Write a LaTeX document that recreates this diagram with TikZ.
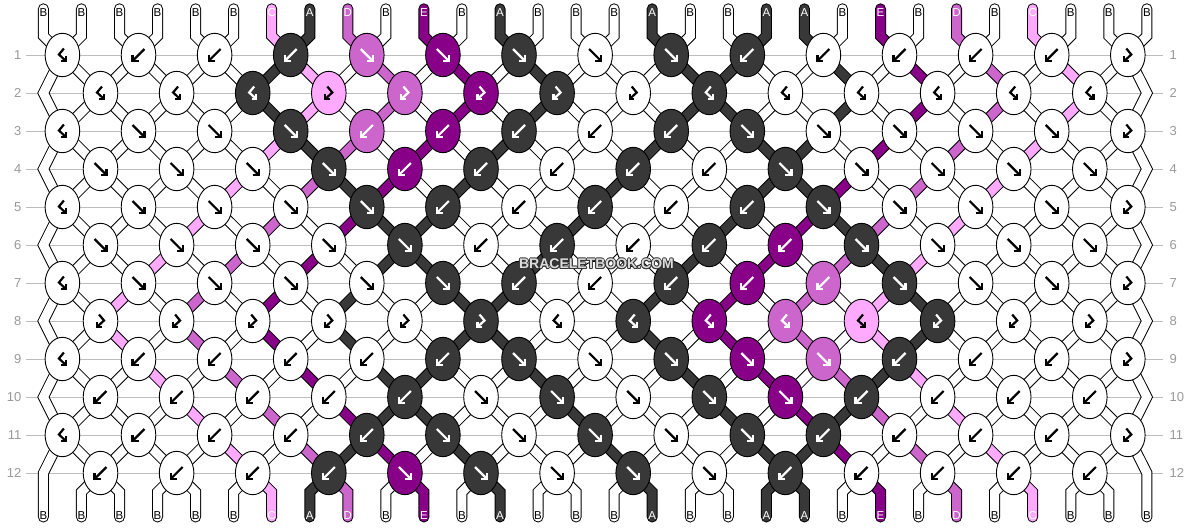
\documentclass[tikz,border=0pt]{standalone}
\usepackage{fontspec}
\setmainfont{Liberation Sans}
\usetikzlibrary{shapes.geometric}
\definecolor{cA}{HTML}{383838}
\definecolor{cB}{HTML}{FFFFFF}
\definecolor{cC}{HTML}{FFAAFF}
\definecolor{cD}{HTML}{CC66CC}
\definecolor{cE}{HTML}{880088}
\definecolor{rowgray}{HTML}{BDBDBD}
\definecolor{numgray}{HTML}{999999}
\definecolor{wmdark}{HTML}{333333}
\definecolor{wmlight}{HTML}{DCDCDC}
% glyph colours and label colours
\def\acA{white}\def\acB{black}\def\acC{black}\def\acD{white}\def\acE{white}
\def\lcA{white}\def\lcB{black}\def\lcC{white}\def\lcD{white}\def\lcE{white}
% string colours by position between rows
\def\PatA{B,B,B,B,B,B,C,A,D,B,E,B,A,B,B,B,A,B,B,A,A,B,E,B,D,B,C,B,B,B}
\def\PatB{B,B,B,B,B,B,A,C,B,D,B,E,B,A,B,B,B,A,A,B,B,A,B,E,B,D,B,C,B,B}
\def\PatC{B,B,B,B,B,C,B,D,A,E,B,A,B,B,B,A,B,B,B,A,A,E,B,D,B,C,B,B,B,B}
\def\PatD{B,B,B,B,C,B,D,B,E,A,A,B,B,B,A,B,B,B,A,B,E,A,D,B,C,B,B,B,B,B}
\def\PatE{B,B,B,C,B,D,B,E,B,A,A,B,B,A,B,B,B,A,B,E,B,D,A,C,B,B,B,B,B,B}
\def\PatF{B,B,C,B,D,B,E,B,A,B,B,A,A,B,B,B,A,B,E,B,D,B,C,A,B,B,B,B,B,B}
\expandafter\let\csname st0\endcsname\PatA
\expandafter\let\csname st1\endcsname\PatB
\expandafter\let\csname st2\endcsname\PatB
\expandafter\let\csname st3\endcsname\PatA
\expandafter\let\csname st4\endcsname\PatC
\expandafter\let\csname st5\endcsname\PatD
\expandafter\let\csname st6\endcsname\PatE
\expandafter\let\csname st7\endcsname\PatF
\expandafter\let\csname st8\endcsname\PatF
\expandafter\let\csname st9\endcsname\PatE
\expandafter\let\csname st10\endcsname\PatD
\expandafter\let\csname st11\endcsname\PatC
\expandafter\let\csname st12\endcsname\PatA
% knots: type/colour
\expandafter\def\csname kn1\endcsname{bf/B,b/B,b/B,b/A,f/D,f/E,f/A,f/B,f/A,b/A,b/B,b/B,b/B,b/B,fb/B}
\expandafter\def\csname kn2\endcsname{bf/B,bf/B,bf/A,fb/C,fb/D,fb/E,fb/A,fb/B,bf/A,bf/B,bf/B,bf/B,bf/B,bf/B}
\expandafter\def\csname kn3\endcsname{bf/B,f/B,f/B,f/A,b/D,b/E,b/A,b/B,b/A,f/A,f/B,f/B,f/B,f/B,fb/B}
\expandafter\def\csname kn4\endcsname{f/B,f/B,f/B,f/A,b/E,b/A,b/B,b/A,b/B,f/A,f/B,f/B,f/B,f/B}
\expandafter\def\csname kn5\endcsname{bf/B,f/B,f/B,f/B,f/A,b/A,b/B,b/A,b/B,b/A,f/A,f/B,f/B,f/B,fb/B}
\expandafter\def\csname kn6\endcsname{f/B,f/B,f/B,f/B,f/A,b/B,b/A,b/B,b/A,b/E,f/A,f/B,f/B,f/B}
\expandafter\def\csname kn7\endcsname{bf/B,f/B,f/B,f/B,f/B,f/A,b/A,b/B,b/A,b/E,b/D,f/A,f/B,f/B,fb/B}
\expandafter\def\csname kn8\endcsname{fb/B,fb/B,fb/B,fb/B,fb/B,fb/A,bf/B,bf/A,bf/E,bf/D,bf/C,fb/A,fb/B,fb/B}
\expandafter\def\csname kn9\endcsname{bf/B,b/B,b/B,b/B,b/B,b/A,f/A,f/B,f/A,f/E,f/D,b/A,b/B,b/B,fb/B}
\expandafter\def\csname kn10\endcsname{b/B,b/B,b/B,b/B,b/A,f/B,f/A,f/B,f/A,f/E,b/A,b/B,b/B,b/B}
\expandafter\def\csname kn11\endcsname{bf/B,b/B,b/B,b/B,b/A,f/A,f/B,f/A,f/B,f/A,b/A,b/B,b/B,b/B,fb/B}
\expandafter\def\csname kn12\endcsname{b/B,b/B,b/B,b/A,f/E,f/A,f/B,f/A,f/B,b/A,b/B,b/B,b/B,b/B}
% knot glyphs (y axis points down)
\newcommand\Arrf{\draw (-6,-6)--(5.2,5.2); \draw (0,6)--(6,6)--(6,0);}
\newcommand\Arrb{\draw (6,-6)--(-5.2,5.2); \draw (0,6)--(-6,6)--(-6,0);}
\newcommand\Arrbf{\draw (1.5,-6.5)--(-3.5,-0.5)--(3,5.5); \draw (-1.2,6)--(3.6,6)--(3.6,1.2);}
\newcommand\Arrfb{\draw (-1.5,-6.5)--(3.5,-0.5)--(-3,5.5); \draw (1.2,6)--(-3.6,6)--(-3.6,1.2);}
\tikzset{
  bandout/.style={line width=11pt, draw=black, line cap=round, line join=miter},
  bandin/.style={line width=9pt, line cap=round, line join=miter},
  knot/.style={ellipse, draw=black, line width=0.9pt, minimum width=34.6pt, minimum height=43.4pt, inner sep=0pt},
  glyph/.style={line width=2.2pt, line cap=butt, line join=miter},
  rowline/.style={draw=rowgray, line width=1pt},
  rownum/.style={text=numgray, font=\fontsize{13}{14}\selectfont, inner sep=0pt},
  lbl/.style={font=\fontsize{11.5}{12}\selectfont, inner sep=0pt},
  wm/.style={font=\bfseries\fontsize{14}{14}\selectfont, inner sep=0pt},
}
\begin{document}
\begin{tikzpicture}[x=1pt,y=-1pt]
\useasboundingbox (0,0) rectangle (1190,528);
\fill[white] (0,0) rectangle (1190,528);
% row lines and numbers
\foreach \rw in {1,...,12}{
  \pgfmathsetmacro\yy{55+38*(\rw-1)}
  \draw[rowline] (26,\yy) -- (1163,\yy);
  \node[rownum, anchor=east] (L\rw) at (21.5,\yy) {\rw};
  \node[rownum, anchor=west] (R\rw) at (1169.5,\yy) {\rw};
}
% end coordinates
\foreach \cl [count=\ps from 0] in \PatA {
  \pgfmathsetmacro\xx{43.4+38.05*\ps}
  \coordinate (T-\ps) at (\xx,8.8);
  \coordinate (U-\ps) at (\xx,517);
}
% string passage points
\foreach \rw in {0,...,13}{
  \foreach \ps in {0,...,29}{
    \ifnum\rw=0 \pgfmathsetmacro\X{43.4+38.05*\ps}\def\Y{36}%
    \else\ifnum\rw=13 \pgfmathsetmacro\X{43.4+38.05*\ps}\def\Y{492}%
    \else
      \pgfmathsetmacro\Y{55+38*(\rw-1)}%
      \ifodd\rw\relax
        \pgfmathsetmacro\X{62.4+76.1*floor(\ps/2)}%
      \else
        \ifnum\ps=0 \def\X{43.4}%
        \else\ifnum\ps=29 \def\X{1146.85}%
        \else \pgfmathsetmacro\X{100.5+76.1*floor((\ps-1)/2)}%
        \fi\fi
      \fi
    \fi\fi
    \coordinate (P-\rw-\ps) at (\X,\Y);
  }
}
% string outlines
\foreach \rw in {0,...,12}{
  \pgfmathtruncatemacro\rn{\rw+1}
  \expandafter\let\expandafter\cur\csname st\rw\endcsname
  \foreach \cl [count=\ps from 0] in \cur {
    \ifnum\ps>0 \ifnum\ps<29
      \ifnum\rw=0 \draw[bandout] (T-\ps) -- (P-0-\ps) -- (P-1-\ps);
      \else\ifnum\rw=12 \draw[bandout] (P-12-\ps) -- (P-13-\ps) -- (U-\ps);
      \else \draw[bandout] (P-\rw-\ps) -- (P-\rn-\ps);
      \fi\fi
    \fi\fi
  }
}
\draw[bandout] (T-0) \foreach \rw in {0,...,13}{ -- (P-\rw-0) } -- (U-0);
\draw[bandout] (T-29) \foreach \rw in {0,...,13}{ -- (P-\rw-29) } -- (U-29);
% string fills
\foreach \rw in {0,...,12}{
  \pgfmathtruncatemacro\rn{\rw+1}
  \expandafter\let\expandafter\cur\csname st\rw\endcsname
  \foreach \cl [count=\ps from 0] in \cur {
    \ifnum\ps>0 \ifnum\ps<29
      \ifnum\rw=0 \draw[bandin, draw=c\cl] (T-\ps) -- (P-0-\ps) -- (P-1-\ps);
      \else\ifnum\rw=12 \draw[bandin, draw=c\cl] (P-12-\ps) -- (P-13-\ps) -- (U-\ps);
      \else \draw[bandin, draw=c\cl] (P-\rw-\ps) -- (P-\rn-\ps);
      \fi\fi
    \fi\fi
  }
}
\draw[bandin, draw=cB] (T-0) \foreach \rw in {0,...,13}{ -- (P-\rw-0) } -- (U-0);
\draw[bandin, draw=cB] (T-29) \foreach \rw in {0,...,13}{ -- (P-\rw-29) } -- (U-29);
% knots
\foreach \rw in {1,...,12}{
  \pgfmathsetmacro\yy{55+38*(\rw-1)}
  \expandafter\let\expandafter\cur\csname kn\rw\endcsname
  \foreach \ty/\cl [count=\kn from 0] in \cur {
    \ifodd\rw\relax \pgfmathsetmacro\xx{62.4+76.1*\kn}\else \pgfmathsetmacro\xx{100.5+76.1*\kn}\fi
    \edef\ac{\csname ac\cl\endcsname}
    \node[knot, fill=c\cl] (K-\rw-\kn) at (\xx,\yy) {};
    \begin{scope}[shift={(\xx,\yy)}, glyph, color=\ac]
      \csname Arr\ty\endcsname
    \end{scope}
  }
}
% string labels
\foreach \cl [count=\ps from 0] in \PatA {
  \pgfmathsetmacro\xx{43.4+38.05*\ps}
  \edef\lc{\csname lc\cl\endcsname}
  \node[lbl, text=\lc] (lt-\ps) at (\xx,12.5) {\cl};
  \node[lbl, text=\lc] (lb-\ps) at (\xx,515.5) {\cl};
}
% watermark
\foreach \dx/\dy in {-0.9/0,0.9/0,0/-0.9,0/0.9,-0.65/-0.65,0.65/-0.65,-0.65/0.65,0.65/0.65}{
  \node[wm, text=wmdark] at (596.5+\dx,264+\dy) {BRACELETBOOK.COM};
}
\node[wm, text=wmlight] (wm) at (596.5,264) {BRACELETBOOK.COM};
\end{tikzpicture}
\end{document}
